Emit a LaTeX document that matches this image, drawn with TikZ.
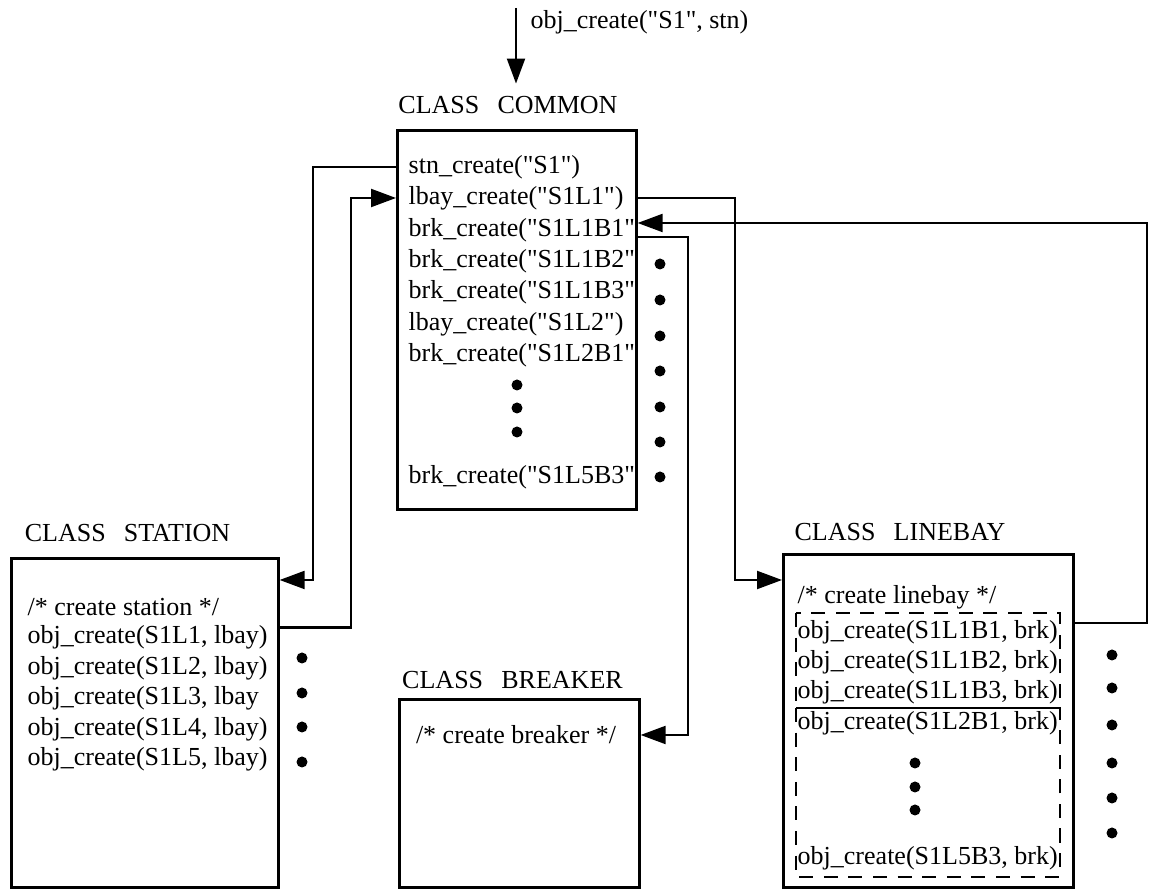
\documentclass[tikz,border=0pt]{standalone}
\usepackage{fontspec}
\setmainfont{Liberation Serif}[Ligatures=TeXOff]
\usepackage{tikz}
\usetikzlibrary{arrows.meta,calc}
\newcommand{\clsname}[1]{CLASS\hspace{0.7em}#1}

\begin{document}
\begin{tikzpicture}[
  txt/.style={inner sep=0pt,font=\fontsize{7.4pt}{8.5pt}\selectfont},
  row/.style={txt,anchor=west},
  classbox/.style={draw,line width=0.75pt,anchor=north west,inner sep=0pt},
  conn/.style={line width=0.6pt,-{Triangle[length=0.25cm,width=0.18cm]}},
  grp/.style={line width=0.6pt,dash pattern=on 4pt off 3pt}]
\useasboundingbox (0,0) rectangle (11.51,-8.90);

\coordinate (call) at (5.16,-0.08);
\node[row] (calllbl) at (5.30,-0.22) {obj\_create("S1", stn)};
\node[txt] (cmnlbl) at (5.08,-1.05) {\clsname{COMMON}};
\draw[conn,shorten >=0.12cm] (call) -- (call |- cmnlbl.north);

\node[classbox,minimum width=2.39cm,minimum height=3.79cm] (common) at (3.96,-1.29) {};
\node[row] (c1) at (4.08,-1.67) {stn\_create("S1")};
\node[row] (c2) at (4.08,-1.98) {lbay\_create("S1L1")};
\node[row] (c3) at (4.08,-2.30) {brk\_create("S1L1B1"};
\node[row] (c4) at (4.08,-2.61) {brk\_create("S1L1B2"};
\node[row] (c5) at (4.08,-2.92) {brk\_create("S1L1B3"};
\node[row] (c6) at (4.08,-3.24) {lbay\_create("S1L2")};
\node[row] (c7) at (4.08,-3.55) {brk\_create("S1L2B1"};
\node[row] (c8) at (4.08,-4.77) {brk\_create("S1L5B3"};

\node[txt] (stnlbl) at (1.275,-5.33) {\clsname{STATION}};
\node[classbox,minimum width=2.67cm,minimum height=3.29cm] (station) at (0.10,-5.57) {};
\node[row] (s0) at (0.27,-6.07) {/* create station */};
\node[row] (s1) at (0.27,-6.375) {obj\_create(S1L1, lbay)};
\node[row] (s2) at (0.27,-6.68) {obj\_create(S1L2, lbay)};
\node[row] (s3) at (0.27,-6.985) {obj\_create(S1L3, lbay};
\node[row] (s4) at (0.27,-7.29) {obj\_create(S1L4, lbay)};
\node[row] (s5) at (0.27,-7.595) {obj\_create(S1L5, lbay)};

\node[txt] (brklbl) at (5.125,-6.80) {\clsname{BREAKER}};
\node[classbox,minimum width=2.40cm,minimum height=1.88cm] (breaker) at (3.98,-6.98) {};
\node[txt] (b0) at (5.16,-7.35) {/* create breaker */};

\node[txt] (lbylbl) at (9.00,-5.32) {\clsname{LINEBAY}};
\node[classbox,minimum width=2.90cm,minimum height=3.33cm] (linebay) at (7.82,-5.53) {};
\node[row] (l0) at (7.97,-5.97) {/* create linebay */};
\node[row] (l1) at (7.97,-6.32) {obj\_create(S1L1B1, brk)};
\node[row] (l2) at (7.97,-6.62) {obj\_create(S1L1B2, brk)};
\node[row] (l3) at (7.97,-6.92) {obj\_create(S1L1B3, brk)};
\node[row] (l4) at (7.97,-7.23) {obj\_create(S1L2B1, brk)};
\node[row] (l5) at (7.97,-8.58) {obj\_create(S1L5B3, brk)};
\draw[grp] (7.96,-6.13) rectangle (10.60,-7.08);
\draw[grp] (7.96,-7.08) rectangle (10.60,-8.77);

\draw[conn] (common.west |- c1) -- ++(-0.83,0) |- ($(station.east |- s0)+(0,0.27)$);
\draw[conn] ($(station.east |- s1)+(0,0.10)$) -- ++(0.71,0) |- (common.west |- c2);
\draw[conn] (common.east |- c2) -- ++(0.97,0) |- ($(linebay.west |- l0)+(0,0.17)$);
\draw[conn] ($(linebay.east |- l1)+(0,0.09)$) -- ++(0.72,0) |- ($(common.east |- c3)+(0,0.07)$);
\draw[conn] ($(common.east |- c3)+(0,-0.07)$) -- ++(0.50,0) |- (breaker.east |- b0);

\fill (5.17,-3.85) circle (0.055) (5.17,-4.08) circle (0.055) (5.17,-4.32) circle (0.055);
\fill (6.60,-2.64) circle (0.055) (6.60,-3.00) circle (0.055) (6.60,-3.36) circle (0.055)
  (6.60,-3.71) circle (0.055) (6.60,-4.07) circle (0.055) (6.60,-4.42) circle (0.055)
  (6.60,-4.77) circle (0.055);
\fill (3.02,-6.58) circle (0.055) (3.02,-6.93) circle (0.055) (3.02,-7.27) circle (0.055)
  (3.02,-7.62) circle (0.055);
\fill (9.15,-7.63) circle (0.055) (9.15,-7.87) circle (0.055) (9.15,-8.10) circle (0.055);
\fill (11.12,-6.55) circle (0.055) (11.12,-6.88) circle (0.055) (11.12,-7.25) circle (0.055)
  (11.12,-7.63) circle (0.055) (11.12,-7.98) circle (0.055) (11.12,-8.33) circle (0.055);
\end{tikzpicture}
\end{document}
